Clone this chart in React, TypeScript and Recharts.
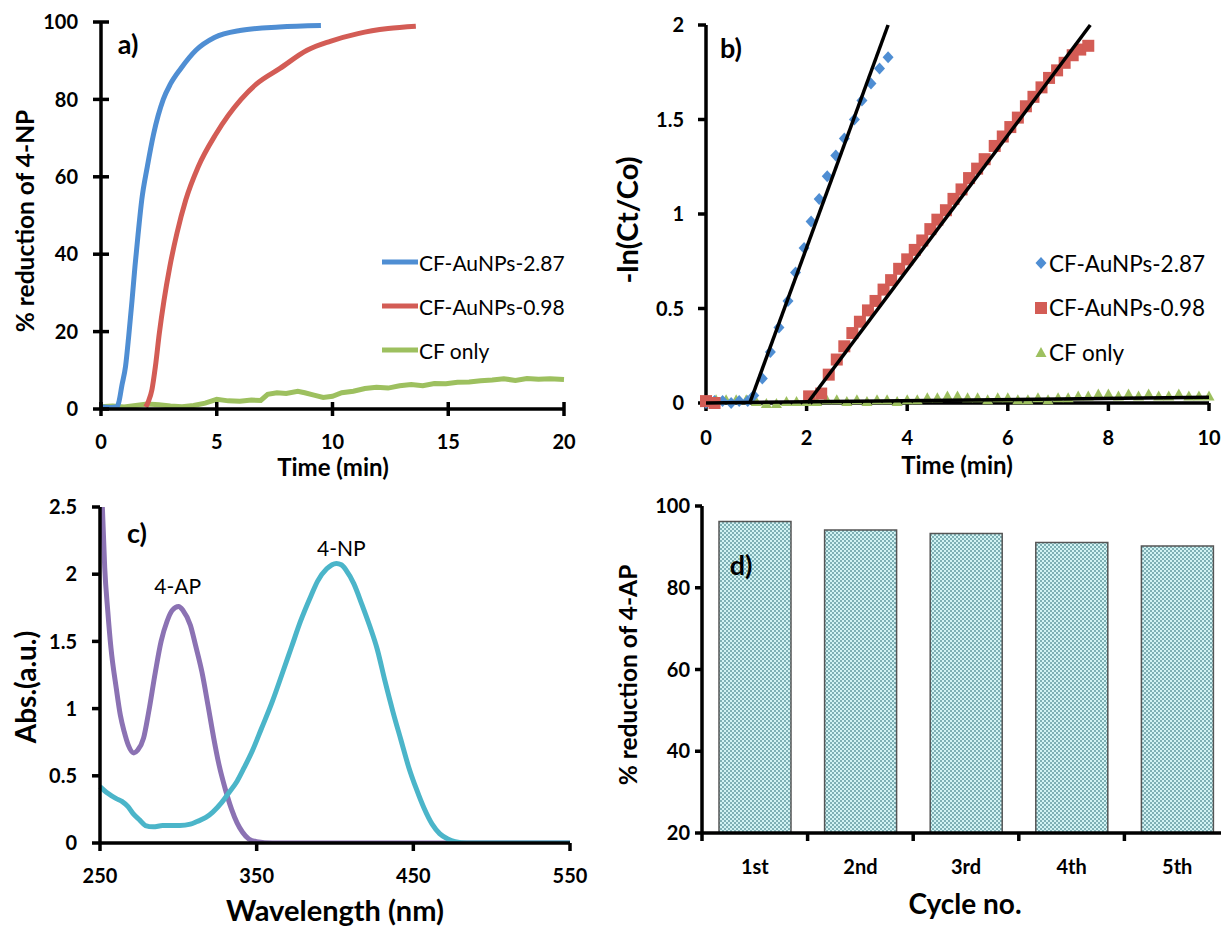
import React from 'react';
import { LineChart, Line, XAxis, YAxis, ScatterChart, Scatter, BarChart, Bar, Legend } from 'recharts';

const FONT = 'Lato, "Open Sans", sans-serif';

// ---------- Panel a: % reduction of 4-NP vs time ----------
const A_X_TICKS = [0, 5, 10, 15, 20];
const A_Y_TICKS = [0, 20, 40, 60, 80, 100];
const A_BLUE = [
  { x: 0, y: 0.5 }, { x: 0.4, y: 0.4 }, { x: 0.7, y: 0.6 }, { x: 0.78, y: 2 }, { x: 0.9, y: 6 },
  { x: 1.06, y: 11 }, { x: 1.2, y: 19 }, { x: 1.34, y: 28 }, { x: 1.47, y: 37 }, { x: 1.6, y: 45 },
  { x: 1.76, y: 54 }, { x: 2.0, y: 62.6 }, { x: 2.27, y: 71 }, { x: 2.69, y: 80 }, { x: 3.0, y: 84 },
  { x: 3.45, y: 88 }, { x: 4.1, y: 92.7 }, { x: 4.9, y: 96 }, { x: 6.0, y: 97.8 }, { x: 7.7, y: 98.7 },
  { x: 9.5, y: 99.1 },
];
const A_RED = [
  { x: 1.93, y: 0.5 }, { x: 2.05, y: 2 }, { x: 2.2, y: 5 }, { x: 2.35, y: 11 }, { x: 2.52, y: 19.6 },
  { x: 2.72, y: 28 }, { x: 2.97, y: 36.7 }, { x: 3.28, y: 45.4 }, { x: 3.66, y: 54 }, { x: 4.2, y: 62.6 },
  { x: 4.96, y: 71 }, { x: 6.05, y: 80 }, { x: 6.72, y: 84 }, { x: 7.73, y: 88 }, { x: 8.9, y: 92.7 },
  { x: 9.9, y: 95 }, { x: 11.1, y: 97 }, { x: 12.4, y: 98.3 }, { x: 13.6, y: 98.9 },
];
const A_GREEN = [
  { x: 0, y: 0.6 }, { x: 0.5, y: 0.8 }, { x: 1, y: 0.5 }, { x: 1.5, y: 0.9 }, { x: 2, y: 1.3 },
  { x: 2.5, y: 1.1 }, { x: 3, y: 0.8 }, { x: 3.5, y: 0.6 }, { x: 4, y: 0.9 }, { x: 4.5, y: 1.5 },
  { x: 5, y: 2.5 }, { x: 5.5, y: 2.1 }, { x: 6, y: 2.0 }, { x: 6.5, y: 2.3 }, { x: 6.9, y: 2.2 },
  { x: 7.2, y: 3.8 }, { x: 7.6, y: 4.2 }, { x: 8, y: 4.0 }, { x: 8.5, y: 4.6 }, { x: 8.8, y: 4.2 },
  { x: 9.2, y: 3.6 }, { x: 9.6, y: 3.0 }, { x: 10, y: 3.3 }, { x: 10.4, y: 4.2 }, { x: 10.9, y: 4.6 },
  { x: 11.4, y: 5.3 }, { x: 11.9, y: 5.6 }, { x: 12.4, y: 5.4 }, { x: 12.9, y: 6.0 }, { x: 13.4, y: 6.3 },
  { x: 13.9, y: 6.0 }, { x: 14.4, y: 6.6 }, { x: 14.9, y: 6.5 }, { x: 15.4, y: 6.9 }, { x: 15.9, y: 7.0 },
  { x: 16.4, y: 7.3 }, { x: 16.9, y: 7.5 }, { x: 17.4, y: 7.8 }, { x: 17.9, y: 7.4 }, { x: 18.4, y: 7.9 },
  { x: 18.9, y: 7.7 }, { x: 19.4, y: 7.8 }, { x: 20, y: 7.6 },
];

// ---------- Panel b: -ln(Ct/Co) vs time ----------
const B_X_TICKS = [0, 2, 4, 6, 8, 10];
const B_Y_TICKS = [0, 0.5, 1, 1.5, 2];
const B_BLUE = [
  { x: 0, y: 0 }, { x: 0.17, y: 0.01 }, { x: 0.33, y: 0.01 }, { x: 0.5, y: 0 }, { x: 0.66, y: 0.01 },
  { x: 0.83, y: 0.01 }, { x: 0.95, y: 0.04 }, { x: 1.12, y: 0.13 }, { x: 1.28, y: 0.27 }, { x: 1.45, y: 0.40 },
  { x: 1.63, y: 0.54 }, { x: 1.78, y: 0.69 }, { x: 1.95, y: 0.82 }, { x: 2.09, y: 0.96 }, { x: 2.25, y: 1.08 },
  { x: 2.41, y: 1.20 }, { x: 2.58, y: 1.31 }, { x: 2.75, y: 1.40 }, { x: 2.95, y: 1.50 }, { x: 3.10, y: 1.60 },
  { x: 3.28, y: 1.69 }, { x: 3.45, y: 1.77 }, { x: 3.62, y: 1.83 },
];
const B_RED = [
  { x: 0, y: 0.01 }, { x: 0.17, y: 0.0 }, { x: 2.05, y: 0.035 }, { x: 2.29, y: 0.05 }, { x: 2.44, y: 0.15 },
  { x: 2.6, y: 0.23 }, { x: 2.75, y: 0.30 }, { x: 2.91, y: 0.37 }, { x: 3.06, y: 0.43 }, { x: 3.22, y: 0.49 },
  { x: 3.37, y: 0.54 }, { x: 3.53, y: 0.60 }, { x: 3.68, y: 0.65 }, { x: 3.84, y: 0.71 }, { x: 4.0, y: 0.76 },
  { x: 4.15, y: 0.81 }, { x: 4.3, y: 0.86 }, { x: 4.46, y: 0.92 }, { x: 4.6, y: 0.97 }, { x: 4.77, y: 1.02 },
  { x: 4.92, y: 1.08 }, { x: 5.08, y: 1.13 }, { x: 5.23, y: 1.19 }, { x: 5.39, y: 1.24 }, { x: 5.54, y: 1.29 },
  { x: 5.74, y: 1.36 }, { x: 5.9, y: 1.41 }, { x: 6.05, y: 1.46 }, { x: 6.2, y: 1.51 }, { x: 6.36, y: 1.57 },
  { x: 6.51, y: 1.62 }, { x: 6.67, y: 1.67 }, { x: 6.82, y: 1.72 }, { x: 6.98, y: 1.76 }, { x: 7.13, y: 1.80 },
  { x: 7.29, y: 1.84 }, { x: 7.44, y: 1.87 }, { x: 7.6, y: 1.89 },
];
const B_GREEN = [
  { x: 0, y: 0.01 }, { x: 0.2, y: 0.02 }, { x: 0.4, y: 0.02 }, { x: 0.6, y: 0.02 }, { x: 0.8, y: 0.02 },
  { x: 1.0, y: 0.01 }, { x: 1.2, y: 0.0 }, { x: 1.4, y: 0.0 }, { x: 1.6, y: 0.01 }, { x: 1.8, y: 0.01 },
  { x: 2.0, y: 0.01 }, { x: 2.2, y: 0.01 }, { x: 2.4, y: 0.02 }, { x: 2.6, y: 0.02 }, { x: 2.8, y: 0.01 },
  { x: 3.0, y: 0.02 }, { x: 3.2, y: 0.01 }, { x: 3.4, y: 0.02 }, { x: 3.6, y: 0.02 }, { x: 3.8, y: 0.01 },
  { x: 4.0, y: 0.02 }, { x: 4.2, y: 0.02 }, { x: 4.4, y: 0.03 }, { x: 4.6, y: 0.03 }, { x: 4.8, y: 0.04 },
  { x: 5.0, y: 0.04 }, { x: 5.2, y: 0.03 }, { x: 5.4, y: 0.03 }, { x: 5.6, y: 0.02 }, { x: 5.8, y: 0.03 },
  { x: 6.0, y: 0.03 }, { x: 6.2, y: 0.02 }, { x: 6.4, y: 0.02 }, { x: 6.6, y: 0.03 }, { x: 6.8, y: 0.02 },
  { x: 7.0, y: 0.03 }, { x: 7.2, y: 0.03 }, { x: 7.4, y: 0.04 }, { x: 7.6, y: 0.04 }, { x: 7.8, y: 0.05 },
  { x: 8.0, y: 0.05 }, { x: 8.2, y: 0.04 }, { x: 8.4, y: 0.05 }, { x: 8.6, y: 0.04 }, { x: 8.8, y: 0.05 },
  { x: 9.0, y: 0.04 }, { x: 9.2, y: 0.04 }, { x: 9.4, y: 0.05 }, { x: 9.6, y: 0.04 }, { x: 9.8, y: 0.04 },
  { x: 10.0, y: 0.04 },
];
const B_BLUE_FIT = [{ x: 0.87, y: 0 }, { x: 3.62, y: 2.0 }];
const B_RED_FIT = [{ x: 2.02, y: 0 }, { x: 7.64, y: 2.0 }];
const B_GREEN_FIT = [{ x: 0, y: 0 }, { x: 10, y: 0.03 }];

// ---------- Panel c: UV-vis spectra ----------
const C_X_TICKS = [250, 350, 450, 550];
const C_Y_TICKS = [0, 0.5, 1, 1.5, 2, 2.5];
const C_4AP = [
  { x: 251.5, y: 2.5 }, { x: 253, y: 2.05 }, { x: 255, y: 1.72 }, { x: 257, y: 1.45 }, { x: 260.4, y: 1.15 },
  { x: 263, y: 0.95 }, { x: 265.4, y: 0.83 }, { x: 268, y: 0.73 }, { x: 271.6, y: 0.67 }, { x: 274, y: 0.69 },
  { x: 277.8, y: 0.78 }, { x: 281, y: 0.97 }, { x: 285.3, y: 1.27 }, { x: 289, y: 1.5 }, { x: 292.8, y: 1.65 },
  { x: 296, y: 1.73 }, { x: 300.2, y: 1.76 }, { x: 303, y: 1.73 }, { x: 307.7, y: 1.62 }, { x: 311, y: 1.47 },
  { x: 315.1, y: 1.27 }, { x: 319, y: 1.02 }, { x: 322.6, y: 0.78 }, { x: 326, y: 0.58 }, { x: 330, y: 0.4 },
  { x: 334, y: 0.25 }, { x: 337.5, y: 0.15 }, { x: 341, y: 0.08 }, { x: 345, y: 0.03 }, { x: 350, y: 0.01 },
  { x: 360, y: 0 }, { x: 450, y: 0 }, { x: 550, y: 0 },
];
const C_4NP = [
  { x: 250, y: 0.42 }, { x: 255, y: 0.37 }, { x: 260.4, y: 0.33 }, { x: 264, y: 0.31 }, { x: 267.9, y: 0.27 },
  { x: 271, y: 0.22 }, { x: 275.4, y: 0.17 }, { x: 279, y: 0.13 }, { x: 284, y: 0.12 }, { x: 290, y: 0.13 },
  { x: 295, y: 0.13 }, { x: 301, y: 0.13 }, { x: 307.7, y: 0.14 }, { x: 312, y: 0.16 }, { x: 317.6, y: 0.19 },
  { x: 322, y: 0.23 }, { x: 327.6, y: 0.3 }, { x: 332, y: 0.37 }, { x: 337.5, y: 0.46 }, { x: 342, y: 0.56 },
  { x: 347.4, y: 0.69 }, { x: 353, y: 0.85 }, { x: 359.9, y: 1.05 }, { x: 366, y: 1.25 }, { x: 372.3, y: 1.46 },
  { x: 378, y: 1.65 }, { x: 384.7, y: 1.84 }, { x: 389, y: 1.95 }, { x: 394.7, y: 2.04 }, { x: 400.9, y: 2.08 },
  { x: 404, y: 2.07 }, { x: 407.1, y: 2.03 }, { x: 412, y: 1.93 }, { x: 417, y: 1.78 }, { x: 422, y: 1.62 },
  { x: 427, y: 1.44 }, { x: 432, y: 1.2 }, { x: 436.9, y: 0.98 }, { x: 442, y: 0.77 }, { x: 446.9, y: 0.57 },
  { x: 452, y: 0.4 }, { x: 456.8, y: 0.26 }, { x: 462, y: 0.14 }, { x: 466.8, y: 0.07 }, { x: 472, y: 0.03 },
  { x: 476.7, y: 0.01 }, { x: 484, y: 0 }, { x: 550, y: 0 },
];
const C_PEAK_NAMES = ['4-AP', '4-NP'];

// ---------- Panel d: recyclability ----------
const D_CYCLES = ['1st', '2nd', '3rd', '4th', '5th'];
const D_VALUES = [96.2, 94.1, 93.3, 91.1, 90.2];
const D_Y_TICKS = [20, 40, 60, 80, 100];

// ---------- styling ----------
const BLUE = '#4F8ED3';
const RED = '#D35C55';
const GREEN = '#9DC05F';
const PURPLE = '#8B72B3';
const CYAN = '#4BB5C9';

const SERIES_NAMES = ['CF-AuNPs-2.87', 'CF-AuNPs-0.98', 'CF only'];
const SERIES_COLORS = [BLUE, RED, GREEN];

const SW = 3.5;
const AX = { stroke: '#000', strokeWidth: SW };
const TL = { stroke: '#000', strokeWidth: SW };
const TICK = { fill: '#000', fontFamily: FONT, fontWeight: 700, fontSize: 20 };

// cross-style tick for panel a (line drawn through the axis)
type CrossOpts = { side: 'left' | 'bottom'; gap: number; half: number };
const makeCrossTick = (o: CrossOpts) => (props: any) => {
  const { x, y, payload } = props;
  const v = String(payload.value);
  if (o.side === 'left') {
    const ax = x + o.gap;
    return (
      <g>
        <line x1={ax - o.half} x2={ax + o.half} y1={y} y2={y} stroke="#000" strokeWidth={SW} />
        <text x={x} y={y} dy="0.36em" textAnchor="end" fontFamily={FONT} fontWeight={700} fontSize={20} fill="#000">{v}</text>
      </g>
    );
  }
  const ay = y - o.gap;
  return (
    <g>
      <line x1={x} x2={x} y1={ay - o.half} y2={ay + o.half} stroke="#000" strokeWidth={SW} />
      <text x={x} y={y} dy="0.36em" textAnchor="middle" fontFamily={FONT} fontWeight={700} fontSize={20} fill="#000">{v}</text>
    </g>
  );
};

// panel d: category labels centred, tick marks on category boundaries
const D_W = 620;
const D_YW = 92;
const D_BAND = (D_W - D_YW) / D_CYCLES.length;
const D_XGAP = 34;
const CycleTick = (props: any) => {
  const { x, y, payload, index } = props;
  const ay = y - D_XGAP;
  return (
    <g>
      <line x1={x - D_BAND / 2} x2={x - D_BAND / 2} y1={ay} y2={ay + 8} stroke="#000" strokeWidth={SW} />
      {index === D_CYCLES.length - 1 && (
        <line x1={x + D_BAND / 2} x2={x + D_BAND / 2} y1={ay} y2={ay + 8} stroke="#000" strokeWidth={SW} />
      )}
      <text x={x} y={y} dy="0.36em" textAnchor="middle" fontFamily={FONT} fontWeight={700} fontSize={20} fill="#000">{payload.value}</text>
    </g>
  );
};

const Txt = ({ x, y, size, bold = true, rotate = false, children }: any) => (
  <div
    style={{
      position: 'absolute', left: x, top: y, transform: `translate(-50%, -50%)${rotate ? ' rotate(-90deg)' : ''}`,
      fontFamily: FONT, fontWeight: bold ? 700 : 400, fontSize: size, color: '#000', whiteSpace: 'nowrap', lineHeight: 1,
    }}
  >
    {children}
  </div>
);

const LegendLines = () => (
  <div style={{ fontFamily: FONT, fontSize: 21, color: '#000' }}>
    {SERIES_NAMES.map((n, i) => (
      <div key={n} style={{ display: 'flex', alignItems: 'center', height: 44 }}>
        <svg width={36} height={10}><line x1={0} x2={36} y1={5} y2={5} stroke={SERIES_COLORS[i]} strokeWidth={5} /></svg>
        <span style={{ marginLeft: 1 }}>{n}</span>
      </div>
    ))}
  </div>
);

const Diamond = (p: any) => <path d={`M${p.cx},${p.cy - 6}L${p.cx + 5.5},${p.cy}L${p.cx},${p.cy + 6}L${p.cx - 5.5},${p.cy}Z`} fill={BLUE} />;
const Square = (p: any) => <rect x={p.cx - 6} y={p.cy - 6} width={12} height={12} fill={RED} />;
const Triangle = (p: any) => <path d={`M${p.cx},${p.cy - 5}L${p.cx + 5.5},${p.cy + 5}L${p.cx - 5.5},${p.cy + 5}Z`} fill={GREEN} />;
const NoShape = () => <g />;
const MARKERS = [Diamond, Square, Triangle];

const LegendMarkers = () => (
  <div style={{ fontFamily: FONT, fontSize: 22.5, color: '#000' }}>
    {SERIES_NAMES.map((n, i) => {
      const M = MARKERS[i];
      return (
        <div key={n} style={{ display: 'flex', alignItems: 'center', height: 44.5 }}>
          <svg width={14} height={14}><M cx={7} cy={7} /></svg>
          <span style={{ marginLeft: 1 }}>{n}</span>
        </div>
      );
    })}
  </div>
);

const makePeakLabel = (idx: number, name: string, dx: number, lift: number) => (p: any) =>
  p.index === idx ? (
    <text x={p.x + dx} y={p.y - lift} textAnchor="middle" fontFamily={FONT} fontSize={21} fill="#000">{name}</text>
  ) : null;

export default function App() {
  const dData = D_CYCLES.map((c, i) => ({ cycle: c, value: D_VALUES[i] }));
  return (
    <div style={{ position: 'absolute', left: 0, top: 0, width: 1221, height: 928, overflow: 'hidden', background: '#fff' }}>
      <svg width={0} height={0} style={{ position: 'absolute' }}>
        <defs>
          <pattern id="checker" width={4} height={4} patternUnits="userSpaceOnUse">
            <rect x={0} y={0} width={4} height={4} fill="#d2f4f4" />
            <rect x={0} y={0} width={2} height={2} fill="#7fb0b5" />
            <rect x={2} y={2} width={2} height={2} fill="#7fb0b5" />
          </pattern>
        </defs>
      </svg>

      {/* Panel a */}
      <div style={{ position: 'absolute', left: 0, top: 0 }}>
        <LineChart width={600} height={470} margin={{ top: 22, right: 36, left: 0, bottom: 0 }}>
          <XAxis type="number" dataKey="x" domain={[0, 20]} ticks={A_X_TICKS} interval={0} height={61}
            stroke="#000" axisLine={AX} tickLine={false} tickSize={0} tickMargin={33}
            tick={makeCrossTick({ side: 'bottom', gap: 33, half: 7 })} />
          <YAxis type="number" dataKey="y" domain={[0, 100]} ticks={A_Y_TICKS} interval={0} width={101}
            stroke="#000" axisLine={AX} tickLine={false} tickSize={0} tickMargin={23}
            tick={makeCrossTick({ side: 'left', gap: 23, half: 8 })} />
          <Line data={A_GREEN} dataKey="y" type="linear" stroke={GREEN} strokeWidth={5} dot={false} isAnimationActive={false} name={SERIES_NAMES[2]} />
          <Line data={A_BLUE} dataKey="y" type="monotone" stroke={BLUE} strokeWidth={5} dot={false} isAnimationActive={false} name={SERIES_NAMES[0]} />
          <Line data={A_RED} dataKey="y" type="monotone" stroke={RED} strokeWidth={5} dot={false} isAnimationActive={false} name={SERIES_NAMES[1]} />
          <Legend layout="vertical" align="center" verticalAlign="middle" content={() => <LegendLines />}
            wrapperStyle={{ left: 382, top: 240, width: 'auto', height: 'auto' }} />
        </LineChart>
      </div>

      {/* Panel b */}
      <div style={{ position: 'absolute', left: 610, top: 0 }}>
        <ScatterChart width={611} height={470} margin={{ top: 25, right: 12, left: 0, bottom: 0 }}>
          <XAxis type="number" dataKey="x" domain={[0, 10]} ticks={B_X_TICKS} interval={0} height={67}
            stroke="#000" axisLine={AX} tickLine={TL} tickSize={8} tickMargin={20} tick={TICK} />
          <YAxis type="number" dataKey="y" domain={[0, 2]} ticks={B_Y_TICKS} interval={0} width={96}
            stroke="#000" axisLine={AX} tickLine={TL} tickSize={8} tickMargin={14} tick={TICK} />
          <Scatter data={B_GREEN} shape={Triangle} isAnimationActive={false} name={SERIES_NAMES[2]} />
          <Scatter data={B_BLUE} shape={Diamond} isAnimationActive={false} name={SERIES_NAMES[0]} />
          <Scatter data={B_RED} shape={Square} isAnimationActive={false} name={SERIES_NAMES[1]} />
          <Scatter data={B_GREEN_FIT} shape={NoShape} line={{ stroke: '#000', strokeWidth: 3.5 }} isAnimationActive={false} legendType="none" />
          <Scatter data={B_BLUE_FIT} shape={NoShape} line={{ stroke: '#000', strokeWidth: 3.5 }} isAnimationActive={false} legendType="none" />
          <Scatter data={B_RED_FIT} shape={NoShape} line={{ stroke: '#000', strokeWidth: 3.5 }} isAnimationActive={false} legendType="none" />
          <Legend layout="vertical" align="center" verticalAlign="middle" content={() => <LegendMarkers />}
            wrapperStyle={{ left: 424, top: 241, width: 'auto', height: 'auto' }} />
        </ScatterChart>
      </div>

      {/* Panel c */}
      <div style={{ position: 'absolute', left: 0, top: 470 }}>
        <LineChart width={610} height={458} margin={{ top: 37, right: 40, left: 0, bottom: 0 }}>
          <XAxis type="number" dataKey="x" domain={[250, 550]} ticks={C_X_TICKS} interval={0} height={85}
            stroke="#000" axisLine={AX} tickLine={TL} tickSize={8} tickMargin={18} tick={TICK} />
          <YAxis type="number" dataKey="y" domain={[0, 2.5]} ticks={C_Y_TICKS} interval={0} width={100} allowDataOverflow
            stroke="#000" axisLine={AX} tickLine={TL} tickSize={8} tickMargin={15} tick={TICK} />
          <Line data={C_4AP} dataKey="y" type="monotone" stroke={PURPLE} strokeWidth={5} dot={false} isAnimationActive={false} name={C_PEAK_NAMES[0]}
            label={makePeakLabel(16, C_PEAK_NAMES[0], -1, 12)} />
          <Line data={C_4NP} dataKey="y" type="monotone" stroke={CYAN} strokeWidth={5} dot={false} isAnimationActive={false} name={C_PEAK_NAMES[1]}
            label={makePeakLabel(29, C_PEAK_NAMES[1], 5, 7)} />
        </LineChart>
      </div>

      {/* Panel d */}
      <div style={{ position: 'absolute', left: 610, top: 470 }}>
        <BarChart width={D_W} height={458} data={dData} margin={{ top: 36, right: 0, left: 0, bottom: 0 }} barCategoryGap={17}>
          <XAxis dataKey="cycle" type="category" height={95} interval={0}
            stroke="#000" axisLine={AX} tickLine={false} tickSize={0} tickMargin={D_XGAP} tick={CycleTick} />
          <YAxis type="number" domain={[20, 100]} ticks={D_Y_TICKS} interval={0} width={D_YW}
            stroke="#000" axisLine={AX} tickLine={TL} tickSize={7} tickMargin={5} tick={TICK} />
          <Bar dataKey="value" fill="url(#checker)" stroke="#555" strokeWidth={1.5} isAnimationActive={false} />
        </BarChart>
      </div>

      {/* panel tags and axis titles */}
      <Txt x={128} y={43} size={27}>a)</Txt>
      <Txt x={731} y={47} size={27}>b)</Txt>
      <Txt x={137} y={532} size={27}>c)</Txt>
      <Txt x={741} y={564} size={27}>d)</Txt>

      <Txt x={25} y={221} size={24.5} rotate>% reduction of 4-NP</Txt>
      <Txt x={333} y={467} size={24}>Time (min)</Txt>
      <Txt x={626} y={220} size={29} rotate>-ln(Ct/Co)</Txt>
      <Txt x={957} y={465} size={24}>Time (min)</Txt>
      <Txt x={25} y={687} size={28} rotate>Abs.(a.u.)</Txt>
      <Txt x={335} y={909} size={29}>Wavelength (nm)</Txt>
      <Txt x={628} y={675} size={24.5} rotate>% reduction of 4-AP</Txt>
      <Txt x={965} y={903} size={28}>Cycle no.</Txt>
    </div>
  );
}
